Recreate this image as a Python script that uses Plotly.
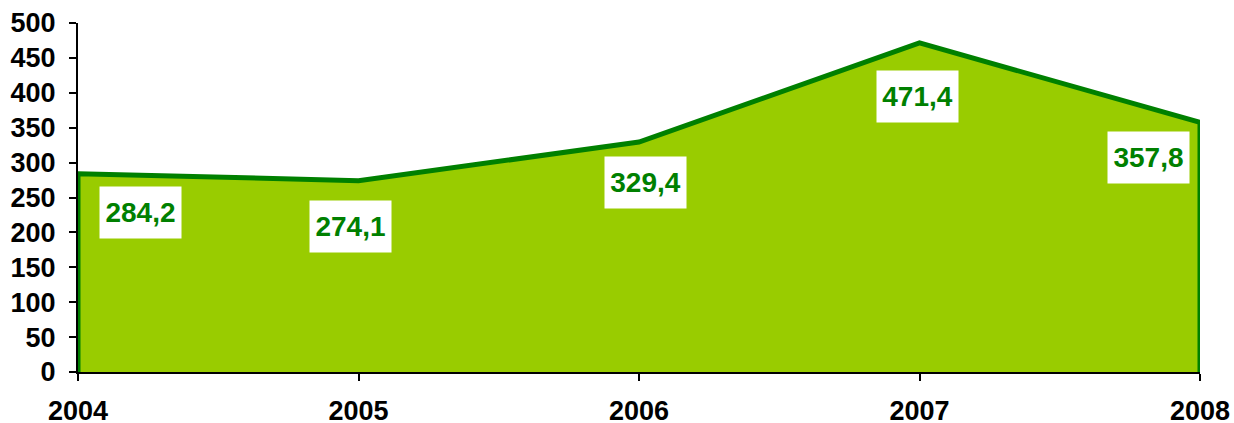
import plotly.graph_objects as go

years = [2004, 2005, 2006, 2007, 2008]
values = [284.2, 274.1, 329.4, 471.4, 357.8]
labels = ["284,2", "274,1", "329,4", "471,4", "357,8"]
y_ticks = list(range(0, 501, 50))

# label offsets (px) relative to each point
label_shift = [(62, -39), (-8, -46), (6, -40), (-2, -54), (-52, -35)]

FILL = "#99CC00"
EDGE = "#008000"
FONT = "Liberation Sans, Arial, sans-serif"

# closed polygon so the outline runs down both sides and along the base
poly_x = [years[0]] + years + [years[-1]]
poly_y = [0] + values + [0]

fig = go.Figure()
fig.add_trace(go.Scatter(
    x=poly_x, y=poly_y, mode="lines", fill="toself",
    fillcolor=FILL, line=dict(color=EDGE, width=5),
    hoverinfo="skip", showlegend=False,
))

for yr, v, txt, (dx, dy) in zip(years, values, labels, label_shift):
    fig.add_annotation(
        x=yr, y=v, text=f"<b>{txt}</b>", showarrow=False,
        xshift=dx, yshift=dy, bgcolor="white", borderpad=0,
        width=81, height=51,
        font=dict(family=FONT, size=28, color=EDGE),
    )

fig.update_layout(
    width=1234, height=423,
    margin=dict(l=78, r=34, t=23, b=51, autoexpand=False),
    paper_bgcolor="white", plot_bgcolor="white",
    font=dict(family=FONT, size=27, color="black"),
    xaxis=dict(
        range=[years[0], years[-1]], tickvals=years,
        ticktext=[f"<b>{y}</b>" for y in years],
        showgrid=False, zeroline=False, showline=True, linecolor="black", linewidth=2,
        ticks="outside", ticklen=7, tickwidth=2, tickcolor="black",
        ticklabelstandoff=7, automargin=False,
    ),
    yaxis=dict(
        range=[0, 500], tickvals=y_ticks,
        ticktext=[f"<b>{t}</b>" for t in y_ticks],
        showgrid=False, zeroline=False, showline=True, linecolor="black", linewidth=2,
        ticks="outside", ticklen=7, tickwidth=2, tickcolor="black",
        ticklabelstandoff=8, automargin=False,
    ),
)

# drop the default 8px body margin so the figure fills the window exactly
fig.write_html(
    "out.html",
    config={"displayModeBar": False},
    post_script="document.body.style.margin='0';document.body.style.overflow='hidden';",
)
